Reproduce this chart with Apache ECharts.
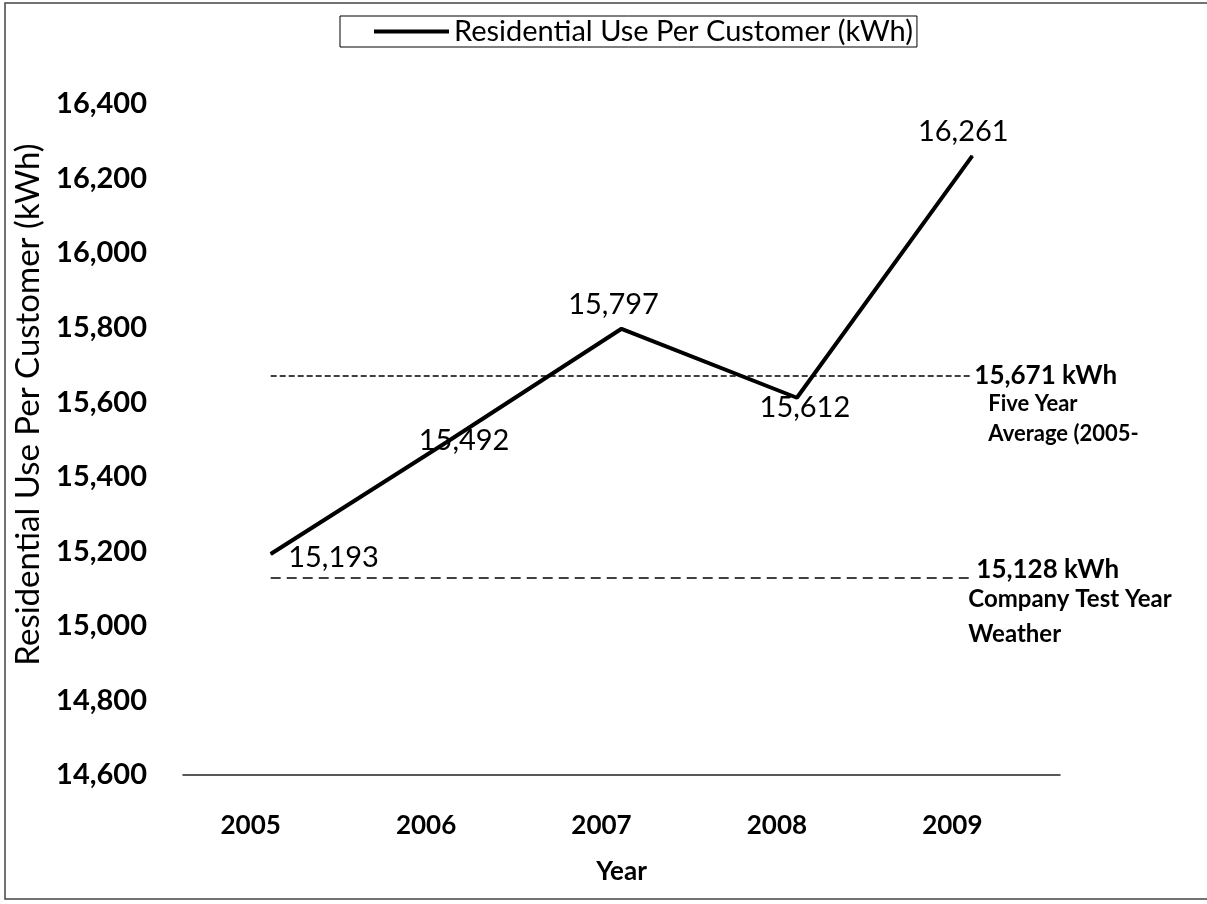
<!DOCTYPE html>
<html>
<head>
<meta charset="utf-8">
<script src="https://cdn.jsdelivr.net/npm/echarts@6/dist/echarts.min.js"></script>
<style>
  html, body { margin: 0; padding: 0; background: #fff; }
  #chart { width: 1207px; height: 904px; }
</style>
</head>
<body>
<div id="chart"></div>
<script>
// data
const years = ['2005', '2006', '2007', '2008', '2009'];
const usePerCustomer = [15193, 15492, 15797, 15612, 16261];
const fiveYearAvg = 15671;
const testYearWeather = 15128;
const yTicks = [14600, 16400, 200]; // min, max, step

const font = 'Lato';

// per-point label placement, tweak by eye
const labelPos = [
    { position: 'right', offset: [12, 4] },
    { position: 'inside', offset: [18, -2] },
    { position: 'top', offset: [-8, -4] },
    { position: 'inside', offset: [8, 10] },
    { position: 'top', offset: [-9, -4] }
];

const chart = echarts.init(document.getElementById('chart'));

var option = {
    backgroundColor: '#fff',
    textStyle: { fontFamily: font, color: '#000' },
    graphic: [{
        type: 'rect',
        shape: { x: 5, y: 3, width: 1220, height: 896 },
        style: { fill: 'none', stroke: '#444', lineWidth: 1.5 },
        silent: true
    }],
    legend: {
        left: 340,
        top: 16,
        data: ['Residential Use Per Customer (kWh)'],
        icon: 'rect',
        itemWidth: 75,
        itemHeight: 4,
        borderColor: '#000',
        borderWidth: 1,
        padding: [0, 4, 0, 34],
        textStyle: { fontFamily: font, fontSize: 29, color: '#000', lineHeight: 31 }
    },
    grid: {
        left: 183,
        right: 147,
        top: 104,
        bottom: 129
    },
    xAxis: {
        type: 'category',
        data: years,
        boundaryGap: true,
        name: 'Year',
        nameLocation: 'middle',
        nameGap: 84,
        nameTextStyle: { fontFamily: font, fontSize: 26, fontWeight: 'bold', color: '#000' },
        axisLine: { lineStyle: { color: '#222', width: 1.5 } },
        axisTick: { show: false },
        axisLabel: {
            margin: 38,
            fontFamily: font,
            fontSize: 26,
            fontWeight: 'bold',
            color: '#000',
            padding: [0, 40, 0, 0]
        }
    },
    yAxis: {
        type: 'value',
        min: yTicks[0],
        max: yTicks[1],
        interval: yTicks[2],
        name: 'Residential Use Per Customer (kWh)',
        nameLocation: 'middle',
        nameGap: 132,
        nameTextStyle: { fontFamily: font, fontSize: 33, color: '#000', padding: [0, 0, 0, 70] },
        axisLine: { show: false },
        axisTick: { show: false },
        splitLine: { show: false },
        axisLabel: {
            margin: 36,
            fontFamily: font,
            fontSize: 29,
            fontWeight: 'bold',
            color: '#000',
            formatter: v => v.toLocaleString('en-US')
        }
    },
    series: [{
        name: 'Residential Use Per Customer (kWh)',
        type: 'line',
        data: usePerCustomer.map((v, i) => ({
            value: v,
            label: labelPos[i]
        })),
        symbol: 'circle',
        symbolSize: 1,
        itemStyle: { color: '#000' },
        lineStyle: { color: '#000', width: 4 },
        label: {
            show: true,
            fontFamily: font,
            fontSize: 29,
            color: '#000',
            formatter: p => p.value.toLocaleString('en-US')
        },
        markLine: {
            silent: true,
            symbol: ['none', 'none'],
            data: [
                [
                    {
                        coord: [0, fiveYearAvg],
                        lineStyle: { type: [6, 3], color: '#000', width: 1.5 },
                        label: {
                            show: true,
                            position: 'end',
                            distance: 2,
                            padding: [60, 0, 0, 0],
                            formatter: fiveYearAvg.toLocaleString('en-US') + ' kWh\n{s|Five Year}\n{s|Average (2005-}',
                            fontFamily: font,
                            fontSize: 26,
                            fontWeight: 'bold',
                            color: '#000',
                            lineHeight: 26,
                            rich: {
                                s: { fontFamily: font, fontSize: 22, fontWeight: 'bold', color: '#000', lineHeight: 30, padding: [0, 0, 0, 14] }
                            }
                        }
                    },
                    { coord: [4, fiveYearAvg] }
                ],
                [
                    {
                        coord: [0, testYearWeather],
                        lineStyle: { type: [10, 6], color: '#000', width: 1.5 },
                        label: {
                            show: true,
                            position: 'end',
                            distance: 4,
                            padding: [52, 0, 0, 0],
                            formatter: testYearWeather.toLocaleString('en-US') + ' kWh\n{s|Company Test Year}\n{s|Weather}',
                            fontFamily: font,
                            fontSize: 26,
                            fontWeight: 'bold',
                            color: '#000',
                            lineHeight: 26,
                            rich: {
                                s: { fontFamily: font, fontSize: 24, fontWeight: 'bold', color: '#000', lineHeight: 35, padding: [0, 0, 0, -8] }
                            }
                        }
                    },
                    { coord: [4, testYearWeather] }
                ]
            ]
        }
    }]
};

chart.setOption(option);
</script>
</body>
</html>
